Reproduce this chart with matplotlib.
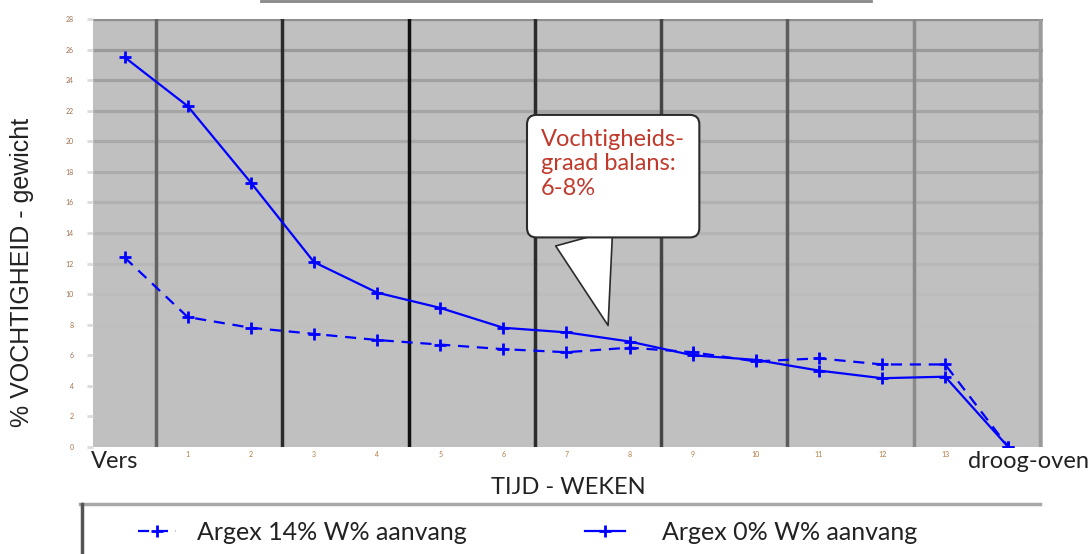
import matplotlib
matplotlib.use('Agg')
import matplotlib.pyplot as plt
from matplotlib.lines import Line2D
from matplotlib.transforms import ScaledTranslation

# ---------------- data ----------------
weeks = list(range(15))
x_labels = ['Vers'] + [str(i) for i in range(1, 14)] + ['droog-oven']
y_ticks = list(range(0, 30, 2))
argex_0 = [25.5, 22.3, 17.3, 12.1, 10.1, 9.1, 7.8, 7.5, 6.9, 6.0, 5.7, 5.0, 4.5, 4.6, 0.0]
argex_14 = [12.4, 8.5, 7.8, 7.4, 7.0, 6.7, 6.4, 6.2, 6.5, 6.2, 5.6, 5.8, 5.4, 5.4, 0.0]
series_labels = ['Argex 14% W% aanvang', 'Argex 0% W% aanvang']
callout_text = 'Vochtigheids-\ngraad balans:\n6-8%\n '
balance_point = (7.66, 7.95)

# ---------------- style ----------------
plt.rcParams['font.family'] = ['Lato', 'DejaVu Sans']
TXT = '#222222'
BLUE = '#0000ff'
W, H = 1092, 554

fig = plt.figure(figsize=(W / 100, H / 100), dpi=100)
ax = fig.add_axes([93 / W, (H - 447) / H, 950 / W, 428 / H])
ax.set_facecolor('#c0c0c0')
for s in ax.spines.values():
    s.set_visible(False)

ax.set_xlim(-0.5, 14.55)
ax.set_ylim(0, 28)

# horizontal gridlines (fading downward)
hgrid_colors = ['#c0c0c0', '#c0c0c0', '#c0c0c0', '#c0c0c0', '#bfbfbf', '#bcbcbc', '#b8b8b8',
                '#b4b4b4', '#b0b0b0', '#acacac', '#a9a9a9', '#a5a5a5', '#a1a1a1', '#9a9a9a', '#8e8e8e']
for v, c in zip(y_ticks, hgrid_colors):
    ax.axhline(v, color=c, lw=2.3, zorder=1)

# vertical separators
vline_pos = [0.5 + 2 * k for k in range(8)]
vline_colors = ['#636363', '#2b2b2b', '#111111', '#2b2b2b', '#454545', '#5c5c5c', '#8a8a8a', '#9a9a9a']
for v, c in zip(vline_pos, vline_colors):
    ax.axvline(v, color=c, lw=2.5, zorder=1.5)

l14, = ax.plot(weeks, argex_14, color=BLUE, lw=1.6, ls=(0, (5, 3.5)), marker='+', ms=8, mew=2, zorder=3)
l0, = ax.plot(weeks, argex_0, color=BLUE, lw=1.6, ls='-', marker='+', ms=8, mew=2, zorder=3)

# ticks
ax.set_xticks(weeks)
ax.set_xticklabels(x_labels)
ax.tick_params(axis='x', length=0, pad=3)
xt = ax.get_xticklabels()
for i, lab in enumerate(xt):
    if i in (0, len(xt) - 1):
        lab.set_fontsize(17)
        lab.set_color(TXT)
    else:
        lab.set_fontsize(5)
        lab.set_color('#b07a40')
xt[0].set_transform(xt[0].get_transform() + ScaledTranslation(-0.10, 0, fig.dpi_scale_trans))
xt[-1].set_transform(xt[-1].get_transform() + ScaledTranslation(0.20, 0, fig.dpi_scale_trans))

ax.set_yticks(y_ticks)
ax.set_yticklabels([str(v) for v in y_ticks], fontsize=5, color='#a07050')
ax.tick_params(axis='y', length=4, color='#dcdcdc', width=2, pad=10)

ax.set_xlabel('TIJD - WEKEN', fontsize=17, color=TXT, va='center')
ax.xaxis.set_label_coords((568 - 93) / 950, (447 - 488) / 428)
ax.set_ylabel('% VOCHTIGHEID - gewicht', fontsize=18, color=TXT, va='center',
              family=['Liberation Sans', 'DejaVu Sans'])
ax.yaxis.set_label_coords((22 - 93) / 950, (447 - 272) / 428)

# callout
ax.annotate(callout_text, xy=balance_point, xytext=(6.6, 20.8), textcoords='data',
            ha='left', va='top', fontsize=17, color='#c0392b', linespacing=1.2,
            bbox=dict(boxstyle='round,pad=0.6,rounding_size=0.4', fc='white', ec='#2b2b2b', lw=1.5),
            arrowprops=dict(arrowstyle='wedge,tail_width=2.5,shrink_factor=0.5', fc='white',
                            ec='#2b2b2b', lw=1.2, relpos=(0.27, 0.0), shrinkA=0, shrinkB=0),
            zorder=5)

# cut-off title underline at top
fig.add_artist(Line2D([261 / W, 871 / W], [1 - 1 / H] * 2, color='#888888', lw=2))

# legend frame edges (partially visible)
fig.add_artist(Line2D([80 / W, 1040 / W], [1 - 504 / H] * 2, color='#a8a8a8', lw=2.5))
fig.add_artist(Line2D([82 / W, 82 / W], [1 - 504 / H, 0], color='#555555', lw=2.5))

fig.legend(handles=[l14], labels=[series_labels[0]], loc='center left',
           bbox_to_anchor=(138 / W, 1 - 532 / H), frameon=False, fontsize=18,
           handlelength=1.52, handletextpad=0.84, borderpad=0, borderaxespad=0, labelcolor=TXT)
fig.legend(handles=[l0], labels=[series_labels[1]], loc='center left',
           bbox_to_anchor=(585 / W, 1 - 532 / H), frameon=False, fontsize=18,
           handlelength=1.6, handletextpad=1.48, borderpad=0, borderaxespad=0, labelcolor=TXT)

fig.savefig('out.png', dpi=100)
